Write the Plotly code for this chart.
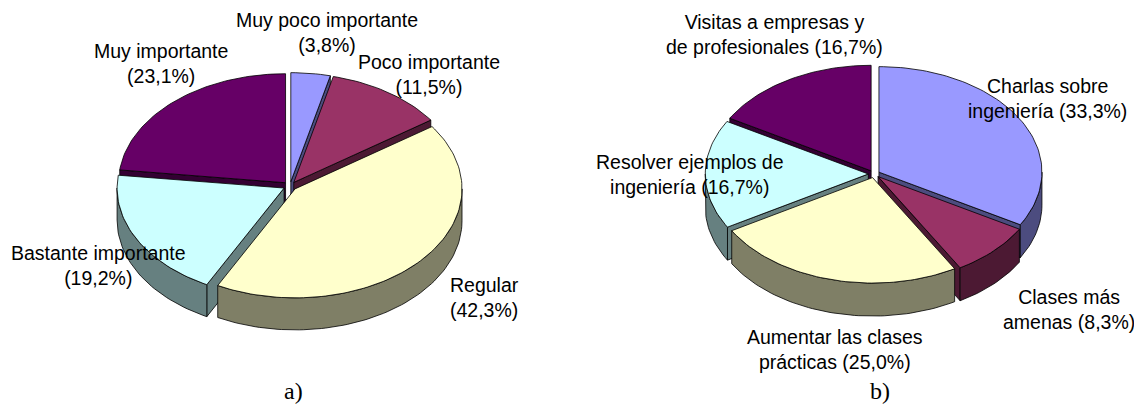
import numpy as np
import plotly.graph_objects as go

# ---------------- data ----------------
cats_a = ["Muy poco importante", "Poco importante", "Regular",
          "Bastante importante", "Muy importante"]
vals_a = [3.8, 11.5, 42.3, 19.2, 23.1]

cats_b = ["Charlas sobre\ningeniería", "Clases más\namenas",
          "Aumentar las clases\nprácticas", "Resolver ejemplos de\ningeniería",
          "Visitas a empresas y\nde profesionales"]
vals_b = [33.3, 8.3, 25.0, 16.7, 16.7]

panel_labels = ["a)", "b)"]

# ---------------- styles ----------------
top_colors = ["#9999FF", "#993366", "#FFFFCC", "#CCFFFF", "#660066"]
side_colors = ["#4C4C7F", "#4C1933", "#7F7F66", "#668080", "#330033"]

W, H = 1142, 407
OFF = 8  # page body margin: the figure starts 8px in from the window corner
# pie geometry (window pixel space): cx, cy, rx, ry, depth, explode
geom_a = dict(cx=290, cy=186, rx=167, ry=109, h=32, e=0.04)
geom_b = dict(cx=874, cy=174, rx=163, ry=105.5, h=33, e=0.035)

# label centres (window pixel space)
lab_pos_a = [(327, 32), (429, 74), (484, 297.5), (98, 265.5), (161, 63)]
lab_pos_b = [(1047, 98.5), (1069, 309), (835, 349), (690, 174), (774, 34)]
panel_pos = [(293, 391), (880, 391)]


def fmt_pct(v, tot):
    return f"{100 * v / tot:.1f}".replace(".", ",") + "%"


def label_text(name, v, tot):
    pct = fmt_pct(v, tot)
    if "\n" in name:
        return name.replace("\n", "<br>") + f" ({pct})"
    return f"{name}<br>({pct})"


def pie3d(values, g):
    cx, cy, rx, ry, h, e = g["cx"], g["cy"], g["rx"], g["ry"], g["h"], g["e"]
    tot = float(sum(values))
    cum = np.concatenate([[0.0], np.cumsum(values)]) / tot * 2 * np.pi
    radial, outer, tops = [], [], []
    eps = 1e-9
    for i in range(len(values)):
        t0, t1 = cum[i], cum[i + 1]
        tm = 0.5 * (t0 + t1)
        ox = cx + e * rx * np.sin(tm)
        oy = cy - e * ry * np.cos(tm)
        n = max(8, int((t1 - t0) / (2 * np.pi) * 240))
        ts = np.linspace(t0, t1, n)
        xs = np.concatenate([[ox], ox + rx * np.sin(ts), [ox]])
        ys = np.concatenate([[oy], oy - ry * np.cos(ts), [oy]])
        tops.append((xs, ys, top_colors[i]))
        # radial walls facing the viewer
        for t, vis in ((t0, np.sin(t0) < -eps), (t1, np.sin(t1) > eps)):
            if vis:
                px, py = ox + rx * np.sin(t), oy - ry * np.cos(t)
                radial.append(([ox, px, px, ox, ox], [oy, py, py + h, oy + h, oy],
                               side_colors[i], oy))
        # outer wall (front half only)
        a0, a1 = max(t0, np.pi / 2), min(t1, 3 * np.pi / 2)
        if a1 > a0:
            m = max(6, int((a1 - a0) / (2 * np.pi) * 240))
            aa = np.linspace(a0, a1, m)
            ux = ox + rx * np.sin(aa)
            uy = oy - ry * np.cos(aa)
            xs = np.concatenate([ux, ux[::-1], ux[:1]])
            ys = np.concatenate([uy, uy[::-1] + h, uy[:1]])
            outer.append((xs, ys, side_colors[i]))
    return radial, outer, tops


fig = go.Figure()


def add_poly(xs, ys, color):
    fig.add_trace(go.Scatter(
        x=list(xs), y=list(ys), mode="lines", fill="toself",
        fillcolor=color, line=dict(color="#000000", width=0.8),
        hoverinfo="skip", showlegend=False))


for vals, g in ((vals_a, geom_a), (vals_b, geom_b)):
    radial, outer, tops = pie3d(vals, g)
    for xs, ys, c, _ in sorted(radial, key=lambda r: r[3]):
        add_poly(xs, ys, c)
    for xs, ys, c in outer:
        add_poly(xs, ys, c)
    for xs, ys, c in tops:
        add_poly(xs, ys, c)

annotations = []
for cats, vals, pos in ((cats_a, vals_a, lab_pos_a), (cats_b, vals_b, lab_pos_b)):
    tot = sum(vals)
    for name, v, (x, y) in zip(cats, vals, pos):
        annotations.append(dict(
            x=x, y=y, xref="x", yref="y", text=label_text(name, v, tot),
            showarrow=False, xanchor="center", yanchor="middle", align="center",
            font=dict(family="Arial, Liberation Sans, sans-serif", size=19.5, color="#000000")))
for lab, (x, y) in zip(panel_labels, panel_pos):
    annotations.append(dict(
        x=x, y=y, xref="x", yref="y", text=lab, showarrow=False,
        xanchor="center", yanchor="middle",
        font=dict(family="Times New Roman, Liberation Serif, serif", size=24, color="#000000")))

fig.update_layout(
    width=W - OFF, height=H - OFF, margin=dict(l=0, r=0, t=0, b=0),
    paper_bgcolor="white", plot_bgcolor="white",
    xaxis=dict(range=[OFF, W], visible=False, fixedrange=True),
    yaxis=dict(range=[H, OFF], visible=False, fixedrange=True),
    annotations=annotations, showlegend=False,
)

fig.write_html("out.html")
